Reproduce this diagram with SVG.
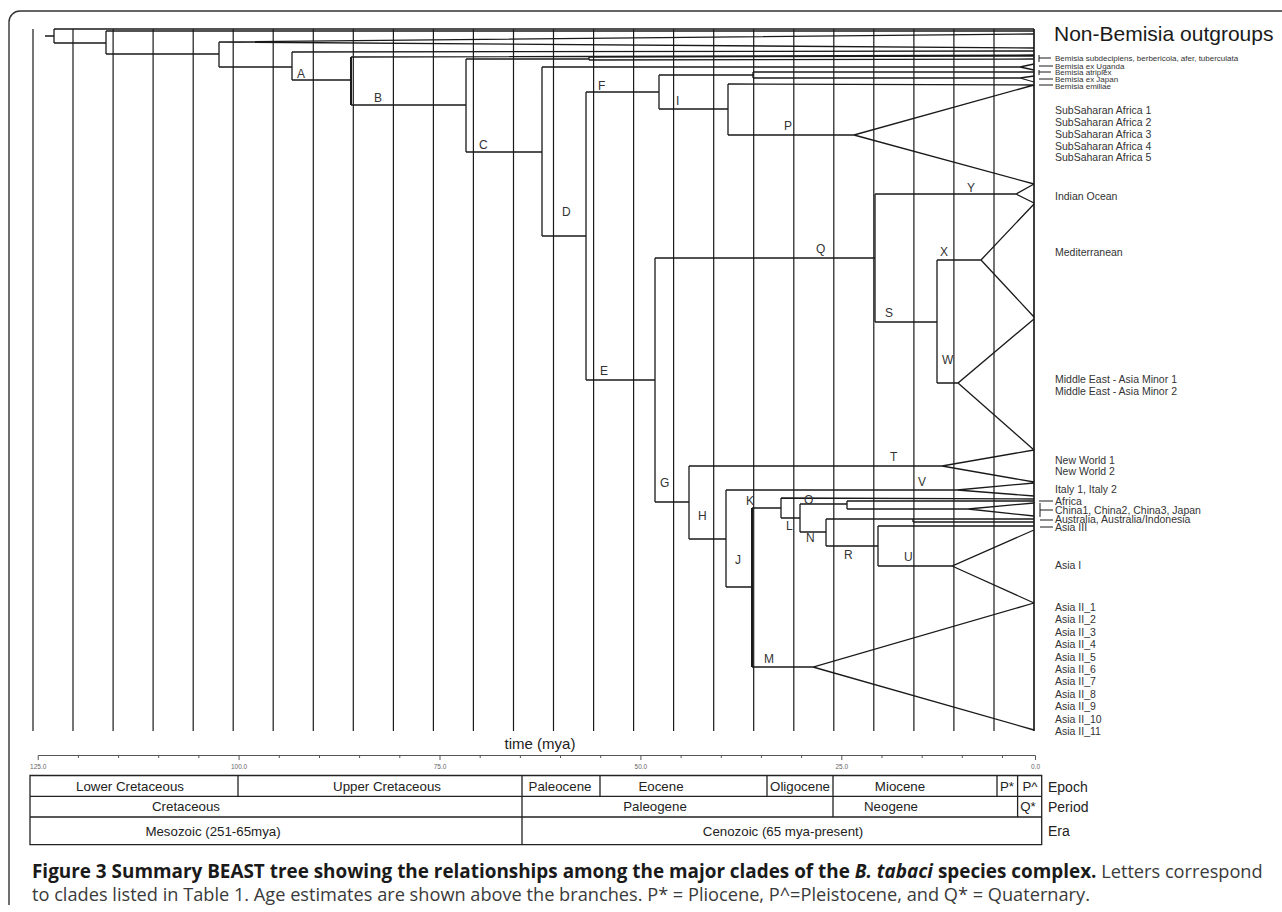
<svg xmlns="http://www.w3.org/2000/svg" width="1282" height="912" viewBox="0 0 1282 912">
<style>
.frame{fill:none;stroke:#333;stroke-width:1.4}
.grid{fill:none;stroke:#1a1a1a;stroke-width:1.2}
.br{fill:none;stroke:#1a1a1a;stroke-width:1.3}
.lt{font-family:"Liberation Sans",Arial,sans-serif;font-size:12px;fill:#333}
.tip{font-family:"Liberation Sans",Arial,sans-serif;font-size:10.5px;fill:#333}
.sm{font-family:"Liberation Sans",Arial,sans-serif;font-size:8px;fill:#333}
.big{font-family:"Liberation Sans",Arial,sans-serif;font-size:21px;fill:#1a1a1a}
.tb{font-family:"Liberation Sans",Arial,sans-serif;font-size:13.3px;fill:#222;text-anchor:middle}
.side{font-family:"Liberation Sans",Arial,sans-serif;font-size:14px;fill:#222}
.ax{font-family:"Liberation Sans",Arial,sans-serif;font-size:6.5px;fill:#666;text-anchor:middle}
.cell{fill:none;stroke:#222;stroke-width:1.3}
.cap{font-family:"Open Sans","Noto Sans",sans-serif;font-size:18.2px;fill:#3a3a3a}
</style>

<path class="frame" d="M9,905 V22 A11,11 0 0 1 20,11 H1282"/>

<g id="grid">
<path class="grid" d="M33,29V731 M73,29V731 M113.1,29V731 M153.1,29V731 M193.2,29V731 M233.2,29V731 M273.2,29V731 M313.3,29V731 M353.3,29V731 M393.4,29V731 M433.4,29V731 M473.4,29V731 M513.5,29V731 M553.5,29V731 M593.6,29V731 M633.6,29V731 M673.6,29V731 M713.7,29V731 M753.7,29V731 M793.8,29V731 M833.8,29V731 M873.8,29V731 M913.9,29V731 M953.9,29V731 M994,29V731"/>
<path class="grid" style="stroke-width:1.7" d="M1034,29V731"/>
</g>

<g id="connectors">
<path class="br" d="M45,36H54 M54,29V43 M54,29H1034 M54,43H106 M106,31V54 M106,31H1034 M106,54H219 M219,42V67"/>
<path class="br" d="M219,42L1034,34 M219,42L1034,48 M219,67H292 M292,52V80 M292,52L1034,51 M292,80H351"/>
<path class="br" style="stroke-width:2" d="M351,57V105"/>
<path class="br" d="M351,57L1034,55 M351,105H466 M466,59V152 M466,59H589 M589,57V60 M589,57L1034,56 M589,60L1034,59 M466,152H542"/>
<path class="br" d="M542,67V236 M542,67H1020 L1034,64 M1020,67L1034,70 M542,236H586 M586,92V380 M586,92H659 M659,75V109 M659,75H753 M753,72V78 M753,72H1034 M753,78H1020 L1034,76 M1020,78L1034,82"/>
<path class="br" d="M659,109H728 M728,84V135 M728,84L1034,85 M728,135H854 L1034,85 M854,135L1034,184"/>
<path class="br" d="M586,380H655 M655,258V502 M655,258H875 M875,194V322 M875,194H1016 L1034,184 M1016,194L1034,203 M875,322H937 M937,260V383 M937,260H981 L1034,204 M981,260L1034,317 M937,383H958 L1034,319 M958,383L1034,450"/>
<path class="br" d="M655,502H689 M689,466V539 M689,466H942 L1034,450 M942,466L1034,482 M689,539H726 M726,490V587 M726,490H957 L1034,483 M957,490L1034,496 M726,587H752"/>
<path class="br" style="stroke-width:2" d="M752,508V667"/>
<path class="br" d="M752,508H781 M781,498V518 M781,498L1034,499 M781,518H800 M800,504V532 M800,504H847 M847,501V509 M847,501L1034,501 M847,509H968 L1034,503 M968,509L1034,516 M800,532H826 M826,519V546 M826,519H1034 M913,519V522 M913,522H1034 M826,546H878 M878,526V566 M878,526H1034 M878,566H952 L1034,530 M952,566L1034,603 M752,667H813 L1034,603 M813,667L1034,730"/>
<path class="br" style="stroke-width:1" d="M1039,55V62 M1039,58H1051 M1039,66H1053 M1039,70V75 M1039,72H1051 M1039,79H1053 M1039,85H1053 M1039,501H1053 M1040,503V517 M1040,510H1053 M1040,520H1053 M1040,527H1053"/>
</g>

<g id="node-A"><text class="lt" x="297" y="78">A</text></g>
<g id="node-B"><text class="lt" x="374" y="102">B</text></g>
<g id="node-C"><text class="lt" x="479" y="149">C</text></g>
<g id="node-D"><text class="lt" x="562" y="216">D</text></g>
<g id="node-E"><text class="lt" x="600" y="375">E</text></g>
<g id="node-F"><text class="lt" x="598" y="90">F</text></g>
<g id="node-G"><text class="lt" x="660" y="487">G</text></g>
<g id="node-H"><text class="lt" x="698" y="520">H</text></g>
<g id="node-I"><text class="lt" x="676" y="105">I</text></g>
<g id="node-J"><text class="lt" x="735" y="564">J</text></g>
<g id="node-K"><text class="lt" x="746" y="505">K</text></g>
<g id="node-L"><text class="lt" x="786" y="530">L</text></g>
<g id="node-M"><text class="lt" x="764" y="663">M</text></g>
<g id="node-N"><text class="lt" x="806" y="542">N</text></g>
<g id="node-O"><text class="lt" x="804" y="504">O</text></g>
<g id="node-P"><text class="lt" x="784" y="130">P</text></g>
<g id="node-Q"><text class="lt" x="816" y="253">Q</text></g>
<g id="node-R"><text class="lt" x="844" y="559">R</text></g>
<g id="node-S"><text class="lt" x="885" y="317">S</text></g>
<g id="node-T"><text class="lt" x="890" y="461">T</text></g>
<g id="node-U"><text class="lt" x="904" y="561">U</text></g>
<g id="node-V"><text class="lt" x="918" y="486">V</text></g>
<g id="node-W"><text class="lt" x="942" y="364">W</text></g>
<g id="node-X"><text class="lt" x="940" y="256">X</text></g>
<g id="node-Y"><text class="lt" x="967" y="192">Y</text></g>

<g id="tips">
<text class="big" x="1054" y="41">Non-Bemisia outgroups</text>
<text class="sm" x="1055" y="61">Bemisia subdecipiens, berbericola, afer, tuberculata</text>
<text class="sm" x="1055" y="69">Bemisia ex Uganda</text>
<text class="sm" x="1055" y="75">Bemisia atriplex</text>
<text class="sm" x="1055" y="82">Bemisia ex Japan</text>
<text class="sm" x="1055" y="89">Bemisia emiliae</text>
<text class="tip" x="1055" y="114">SubSaharan Africa 1</text>
<text class="tip" x="1055" y="126">SubSaharan Africa 2</text>
<text class="tip" x="1055" y="138">SubSaharan Africa 3</text>
<text class="tip" x="1055" y="150">SubSaharan Africa 4</text>
<text class="tip" x="1055" y="161">SubSaharan Africa 5</text>
<text class="tip" x="1055" y="200">Indian Ocean</text>
<text class="tip" x="1055" y="256">Mediterranean</text>
<text class="tip" x="1055" y="383">Middle East - Asia Minor 1</text>
<text class="tip" x="1055" y="395">Middle East - Asia Minor 2</text>
<text class="tip" x="1055" y="464">New World 1</text>
<text class="tip" x="1055" y="475">New World 2</text>
<text class="tip" x="1055" y="493">Italy 1, Italy 2</text>
<text class="tip" x="1055" y="505">Africa</text>
<text class="tip" x="1055" y="514">China1, China2, China3, Japan</text>
<text class="tip" x="1055" y="523">Australia, Australia/Indonesia</text>
<text class="tip" x="1055" y="531">Asia III</text>
<text class="tip" x="1055" y="569">Asia I</text>
<text class="tip" x="1055" y="611">Asia II_1</text>
<text class="tip" x="1055" y="623.4">Asia II_2</text>
<text class="tip" x="1055" y="635.8">Asia II_3</text>
<text class="tip" x="1055" y="648.2">Asia II_4</text>
<text class="tip" x="1055" y="660.6">Asia II_5</text>
<text class="tip" x="1055" y="673">Asia II_6</text>
<text class="tip" x="1055" y="685.4">Asia II_7</text>
<text class="tip" x="1055" y="697.8">Asia II_8</text>
<text class="tip" x="1055" y="710.2">Asia II_9</text>
<text class="tip" x="1055" y="722.6">Asia II_10</text>
<text class="tip" x="1055" y="735">Asia II_11</text>
</g>

<g id="axis">
<text x="540" y="749" style="font-family:'Liberation Sans',Arial,sans-serif;font-size:15px;fill:#222;text-anchor:middle">time (mya)</text>
<path class="br" style="stroke-width:1;stroke:#555" d="M38.2,755.5H1035.5 M38.2,755.5V760 M78.4,755.5V758 M118.6,755.5V758 M158.7,755.5V758 M198.9,755.5V758 M239.1,755.5V760 M279.3,755.5V758 M319.5,755.5V758 M359.6,755.5V758 M399.8,755.5V758 M440,755.5V760 M480.2,755.5V758 M520.4,755.5V758 M560.5,755.5V758 M600.7,755.5V758 M640.9,755.5V760 M681.1,755.5V758 M721.3,755.5V758 M761.4,755.5V758 M801.6,755.5V758 M841.8,755.5V760 M882,755.5V758 M922.2,755.5V758 M962.3,755.5V758 M1002.5,755.5V758 M1035.5,755.5V760"/>
<text class="ax" x="38.2" y="769">125.0</text>
<text class="ax" x="239.1" y="769">100.0</text>
<text class="ax" x="440" y="769">75.0</text>
<text class="ax" x="640.9" y="769">50.0</text>
<text class="ax" x="841.8" y="769">25.0</text>
<text class="ax" x="1035.5" y="769">0.0</text>
</g>

<g id="table">
<path class="cell" d="M30,775.5H1041.7V844.7H30Z M30,796.4H1041.7 M30,817H1041.7 M238,775.5V796.4 M522,775.5V844.7 M600,775.5V796.4 M767,775.5V796.4 M833,775.5V817 M997,775.5V796.4 M1017.6,775.5V817"/>
<text class="tb" x="130" y="791">Lower Cretaceous</text>
<text class="tb" x="387" y="791">Upper Cretaceous</text>
<text class="tb" x="560" y="791">Paleocene</text>
<text class="tb" x="661" y="791">Eocene</text>
<text class="tb" x="800" y="791">Oligocene</text>
<text class="tb" x="900" y="791">Miocene</text>
<text class="tb" x="1007" y="791">P*</text>
<text class="tb" x="1030" y="791">P^</text>
<text class="tb" x="186" y="811">Cretaceous</text>
<text class="tb" x="655" y="811">Paleogene</text>
<text class="tb" x="891" y="811">Neogene</text>
<text class="tb" x="1028" y="811">Q*</text>
<text class="tb" x="213" y="836">Mesozoic (251-65mya)</text>
<text class="tb" x="783" y="836">Cenozoic (65 mya-present)</text>
<text class="side" x="1048" y="792">Epoch</text>
<text class="side" x="1048" y="812">Period</text>
<text class="side" x="1048" y="836">Era</text>
</g>

<g id="caption">
<text class="cap" x="32" y="878"><tspan font-weight="bold" font-size="18.9px" fill="#1a1a1a">Figure 3 Summary BEAST tree showing the relationships among the major clades of the <tspan font-style="italic">B. tabaci</tspan> species complex.</tspan> Letters correspond</text>
<text class="cap" x="32" y="901">to clades listed in Table 1. Age estimates are shown above the branches. P* = Pliocene, P^=Pleistocene, and Q* = Quaternary.</text>
</g>
</svg>
